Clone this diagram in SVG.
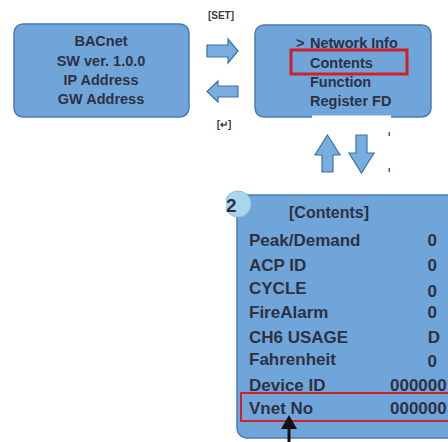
<svg xmlns="http://www.w3.org/2000/svg" width="448" height="442" viewBox="0 0 448 442">
<defs>
<style>
.box{fill:#70a5da;stroke:#4a7cb2;stroke-width:1.5}
.t{font-family:"Liberation Sans",Arial,sans-serif;font-weight:bold;fill:#2e3142}
.c{text-anchor:middle;font-size:14.5px}
.m{font-size:14.5px}
.r{font-size:17px}
.v{font-size:17px;text-anchor:end}
.lbl{font-family:"Liberation Sans",Arial,sans-serif;font-weight:bold;font-size:10px;fill:#3a3a3a;text-anchor:middle}
.arr{fill:#78aedf;stroke:#3f72a8;stroke-width:1.2}
.hl{fill:none;stroke:#d0202a}
</style>
<clipPath id="cc"><rect x="226" y="180" width="40" height="50"/></clipPath>
</defs>
<g id="bacnet">
<rect class="box" x="14" y="24" width="175" height="93" rx="9"/>
<text class="t c" x="101" y="46">BACnet</text>
<text class="t c" x="101" y="66">SW ver. 1.0.0</text>
<text class="t c" x="101" y="85">IP Address</text>
<text class="t c" x="101" y="104">GW Address</text>
</g>
<g id="menu">
<rect class="box" x="255" y="25" width="176" height="92" rx="9"/>
<rect x="312" y="115.5" width="79" height="5" fill="#ffffff"/>
<text class="t m" x="296" y="48" font-weight="normal">&gt;</text>
<text class="t m" x="310" y="48">Network Info</text>
<text class="t m" x="310" y="68">Contents</text>
<text class="t m" x="310" y="87">Function</text>
<text class="t m" x="310" y="106">Register FD</text>
<rect class="hl" x="291" y="50" width="116" height="24" stroke-width="3"/>
</g>
<g id="contents">
<rect class="box" x="237" y="195" width="230" height="243" rx="10"/>
<g clip-path="url(#cc)">
<circle cx="238" cy="204" r="13" fill="#a9d6ec" stroke="#8cc0dc" stroke-width="1"/>
</g>
<text class="t" x="226" y="212" font-size="19" fill="#3b3b4a">2</text>
<text class="t" x="329" y="218" font-size="16" text-anchor="middle">[Contents]</text>
<text class="t r" x="249" y="246">Peak/Demand</text>
<text class="t v" x="437" y="246">0</text>
<text class="t r" x="249" y="271">ACP ID</text>
<text class="t v" x="437" y="271">0</text>
<text class="t r" x="249" y="294">CYCLE</text>
<text class="t v" x="437" y="297">0</text>
<text class="t r" x="249" y="318">FireAlarm</text>
<text class="t v" x="437" y="318">0</text>
<text class="t r" x="249" y="343">CH6 USAGE</text>
<text class="t v" x="440" y="343">D</text>
<text class="t r" x="249" y="365">Fahrenheit</text>
<text class="t v" x="437" y="367">0</text>
<text class="t r" x="249" y="391">Device ID</text>
<text class="t r" x="390" y="391">000000</text>
<text class="t r" x="249" y="414">Vnet No</text>
<text class="t r" x="390" y="414">000000</text>
<rect class="hl" x="241" y="393" width="215" height="28" stroke-width="2" stroke="#e8202a"/>
</g>
<g id="connectors">
<text class="lbl" x="221" y="19">[SET]</text>
<path class="arr" d="M207,45 H228 V39 L238,51 L228,63 V57 H207 Z"/>
<path class="arr" d="M238,86 H218 V81 L207,91.5 L218,102 V97 H238 Z"/>
<text class="lbl" x="224" y="128">[↵]</text>
<path class="arr" d="M327.5,135 L340,155 H333 V172 H322 V155 H315 Z"/>
<path class="arr" d="M349,153 H356 V135 H367 V153 H374 L361.5,173 Z"/>
<rect x="388.5" y="132" width="1.5" height="4" fill="#3a5f9a"/>
<rect x="388.5" y="168" width="1.5" height="4" fill="#3a5f9a"/>
<line x1="289" y1="442" x2="289" y2="426" stroke="#111" stroke-width="3"/>
<path d="M281,429 L289,415 L297,429 Z" fill="#111"/>
</g>
</svg>
